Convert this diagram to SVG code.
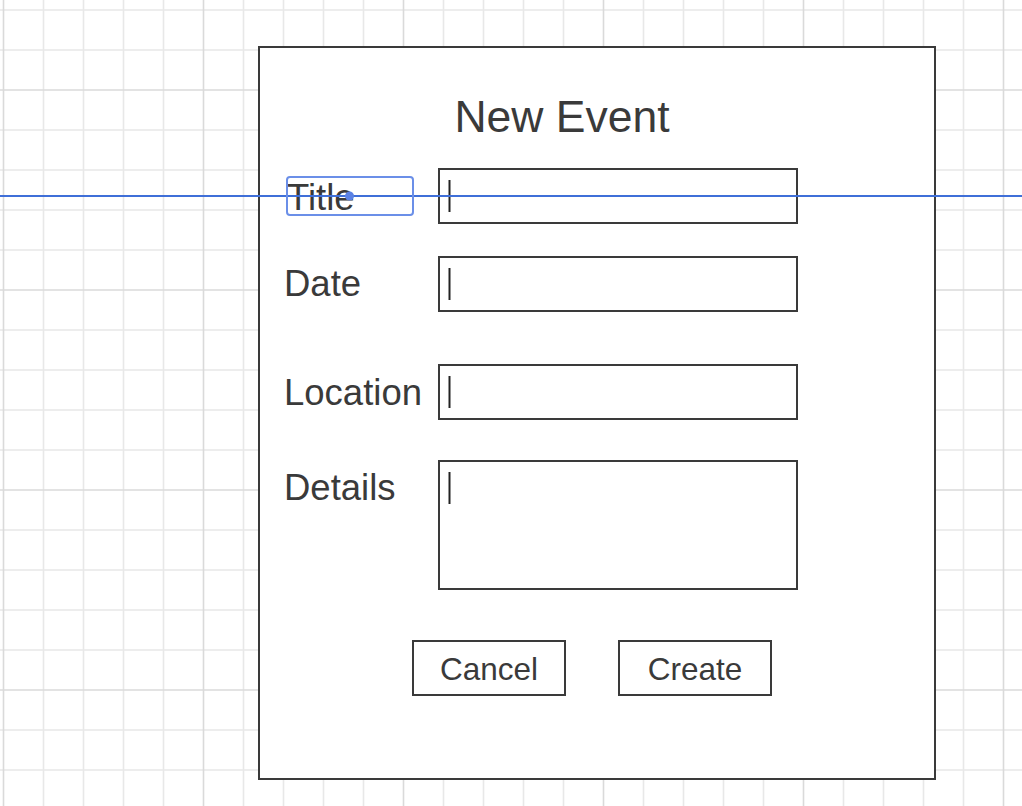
<svg xmlns="http://www.w3.org/2000/svg" width="1022" height="806" viewBox="0 0 1022 806">
  <style>
    .minor { fill: none; stroke: #e8e8e8; stroke-width: 1.6; }
    .major { fill: none; stroke: #dadada; stroke-width: 1.6; }
    .box { fill: #ffffff; stroke: #3a3a3a; stroke-width: 2; }
    .lbl { font-family: "Liberation Sans", Arial, sans-serif; font-size: 36.5px; fill: #3a3a3a; }
    .btn { font-family: "Liberation Sans", Arial, sans-serif; font-size: 31.5px; fill: #3a3a3a; text-anchor: middle; }
    .cur { stroke: #222222; stroke-width: 2; }
  </style>
  <rect width="1022" height="806" fill="#ffffff"/>
  <g id="grid">
    <path class="minor" d="M43.5 0V806M83.5 0V806M123.5 0V806M163.5 0V806M243.5 0V806M283.5 0V806M323.5 0V806M363.5 0V806M443.5 0V806M483.5 0V806M523.5 0V806M563.5 0V806M643.5 0V806M683.5 0V806M723.5 0V806M763.5 0V806M843.5 0V806M883.5 0V806M923.5 0V806M963.5 0V806M0 10H1022M0 50H1022M0 130H1022M0 170H1022M0 210H1022M0 250H1022M0 330H1022M0 370H1022M0 410H1022M0 450H1022M0 530H1022M0 570H1022M0 610H1022M0 650H1022M0 730H1022M0 770H1022"/>
    <path class="major" d="M3.5 0V806M203.5 0V806M403.5 0V806M603.5 0V806M803.5 0V806M1003.5 0V806M0 90H1022M0 290H1022M0 490H1022M0 690H1022"/>
  </g>

  <g id="dialog">
    <rect class="box" x="259" y="47" width="676" height="732"/>
    <text x="562" y="132" font-family="Liberation Sans, Arial, sans-serif" font-size="44.5" fill="#3a3a3a" text-anchor="middle">New Event</text>
  </g>

  <g id="title-label"><text class="lbl" x="287" y="210">Title</text></g>
  <g id="title-field"><rect class="box" x="439" y="169" width="358" height="54"/><line class="cur" x1="449.5" y1="180" x2="449.5" y2="212"/></g>

  <g id="date-label"><text class="lbl" x="284" y="296">Date</text></g>
  <g id="date-field"><rect class="box" x="439" y="257" width="358" height="54"/><line class="cur" x1="449.5" y1="268" x2="449.5" y2="300"/></g>

  <g id="location-label"><text class="lbl" x="284" y="405">Location</text></g>
  <g id="location-field"><rect class="box" x="439" y="365" width="358" height="54"/><line class="cur" x1="449.5" y1="376" x2="449.5" y2="408"/></g>

  <g id="details-label"><text class="lbl" x="284" y="500">Details</text></g>
  <g id="details-field"><rect class="box" x="439" y="461" width="358" height="128"/><line class="cur" x1="449.5" y1="472" x2="449.5" y2="504"/></g>

  <g id="cancel-button"><rect class="box" x="413" y="641" width="152" height="54"/><text class="btn" x="489" y="680">Cancel</text></g>
  <g id="create-button"><rect class="box" x="619" y="641" width="152" height="54"/><text class="btn" x="695" y="680">Create</text></g>

  <g id="connectors">
    <line x1="0" y1="196" x2="1022" y2="196" stroke="#3f6fd8" stroke-width="2"/>
  </g>
  <g id="selection">
    <rect x="287" y="177" width="126" height="38" rx="3" fill="none" stroke="#6b8fe8" stroke-width="2"/>
    <circle cx="349.5" cy="196" r="4.5" fill="#5b82e4"/>
  </g>
</svg>
